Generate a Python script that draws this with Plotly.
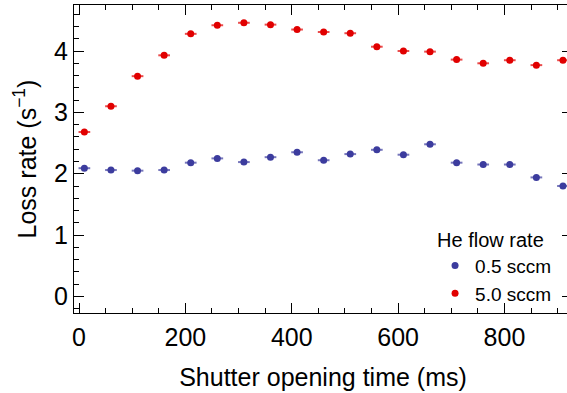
import plotly.graph_objects as go

# Shutter opening time (ms) for each measurement
shutter_ms = [10, 60, 110, 160, 210, 260, 310, 360, 410, 460,
              510, 560, 610, 660, 710, 760, 810, 860, 910]
# Horizontal uncertainty of the shutter timing (ms)
shutter_err = [11] * len(shutter_ms)

# Loss rate (1/s) at 0.5 sccm He flow
loss_low = [2.09, 2.06, 2.05, 2.06, 2.18, 2.25, 2.19, 2.27, 2.35, 2.22,
            2.32, 2.39, 2.31, 2.48, 2.18, 2.15, 2.15, 1.94, 1.80]
# Loss rate (1/s) at 5.0 sccm He flow
loss_high = [2.68, 3.10, 3.59, 3.93, 4.28, 4.42, 4.46, 4.43, 4.35, 4.31,
             4.29, 4.07, 4.00, 3.99, 3.86, 3.80, 3.85, 3.77, 3.85]

series_names = ["0.5 sccm", "5.0 sccm"]

BLUE = "rgb(60,60,158)"
BLUE_ERR = "rgba(60,60,158,0.7)"
RED = "rgb(225,0,0)"
RED_ERR = "rgba(225,0,0,0.7)"
FONT = "Liberation Sans, Arial, sans-serif"

fig = go.Figure()
for name, ys, col, ecol in [(series_names[0], loss_low, BLUE, BLUE_ERR),
                            (series_names[1], loss_high, RED, RED_ERR)]:
    fig.add_trace(go.Scatter(
        x=shutter_ms, y=ys, mode="markers", name=name,
        marker=dict(color=col, size=7, line=dict(width=0)),
        error_x=dict(type="data", array=shutter_err, color=ecol,
                     thickness=2, width=0),
    ))

axis_common = dict(
    showline=True, linecolor="black", linewidth=1.3, mirror="allticks",
    ticks="inside", ticklen=10, tickwidth=1.3, tickcolor="black",
    showgrid=False, zeroline=False,
    tickfont=dict(family=FONT, size=25, color="black"),
)

fig.update_xaxes(
    range=[-9.5, 927], tick0=0, dtick=200, ticklabelstandoff=2,
    minor=dict(dtick=50, ticks="inside", ticklen=5, tickwidth=1.1,
               tickcolor="black", showgrid=False),
    title=dict(text="Shutter opening time (ms)",
               font=dict(family=FONT, size=25, color="black"), standoff=18),
    **axis_common,
)
fig.update_yaxes(
    range=[-0.27, 4.75], tick0=0, dtick=1,
    minor=dict(dtick=0.2, ticks="inside", ticklen=5, tickwidth=1.1,
               tickcolor="black", showgrid=False),
    title=dict(text="Loss rate (s<sup>−1</sup>)",
               font=dict(family=FONT, size=25, color="black"), standoff=10),
    **axis_common,
)

fig.update_layout(
    width=577, height=393,
    margin=dict(l=74, r=5, t=5, b=80),
    paper_bgcolor="white", plot_bgcolor="white",
    showlegend=True,
    legend=dict(
        title=dict(text="He flow rate", font=dict(family=FONT, size=20, color="black")),
        font=dict(family=FONT, size=19, color="black"),
        x=0.97, xanchor="right", y=0.30, yanchor="top",
        bgcolor="rgba(0,0,0,0)", tracegroupgap=0, itemwidth=30,
    ),
)

fig.write_html(
    "out.html",
    post_script=("document.documentElement.style.overflow='hidden';"
                 "document.body.style.overflow='hidden';"
                 "document.body.style.margin='0';"),
)
